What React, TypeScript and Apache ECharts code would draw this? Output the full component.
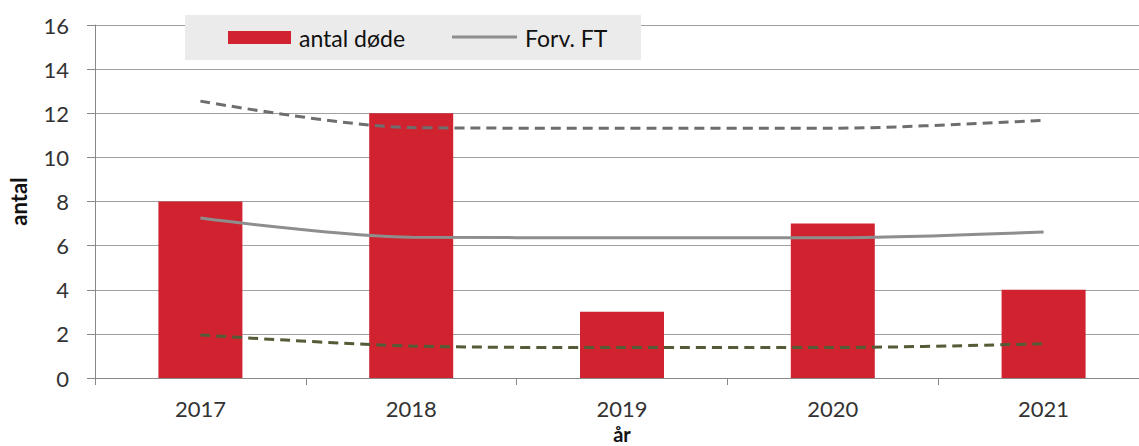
import React, { useEffect, useRef } from "react";
import * as echarts from "echarts";

const years = ["2017", "2018", "2019", "2020", "2021"];
const deaths = [8, 12, 3, 7, 4];
const expected = [7.25, 6.38, 6.36, 6.36, 6.62];
const upper = [12.55, 11.35, 11.32, 11.32, 11.68];
const lower = [1.95, 1.45, 1.38, 1.38, 1.55];
const yTicks = [0, 2, 4, 6, 8, 10, 12, 14, 16];

const FONT = "Lato";

export default function App() {
  const ref = useRef<HTMLDivElement>(null);
  useEffect(() => {
    const chart = echarts.init(ref.current!, null, { renderer: "svg", width: 1139, height: 446 });
    chart.setOption({
      animation: false,
      backgroundColor: "#ffffff",
      grid: {
        left: 95,
        right: -10,
        top: 25,
        bottom: 68,
        containLabel: false,
        outerBoundsMode: "none",
      },
      xAxis: {
        type: "category",
        data: years,
        boundaryGap: true,
        name: "år",
        nameLocation: "middle",
        nameGap: 40,
        nameTextStyle: {
          fontFamily: FONT,
          fontWeight: "bold",
          fontSize: 20,
          lineHeight: 20,
          color: "#111",
        },
        axisLine: { lineStyle: { color: "#888", width: 1 } },
        axisTick: { show: true, length: 7, lineStyle: { color: "#888" } },
        axisLabel: { fontFamily: FONT, fontSize: 22, color: "#333", margin: 19 },
      },
      yAxis: {
        type: "value",
        min: yTicks[0],
        max: yTicks[yTicks.length - 1],
        interval: 2,
        name: "antal",
        nameLocation: "middle",
        nameGap: 77,
        nameRotate: 90,
        nameTextStyle: {
          fontFamily: FONT,
          fontWeight: "bold",
          fontSize: 22,
          color: "#111",
          verticalAlign: "middle",
        },
        axisLine: { show: true, lineStyle: { color: "#888" } },
        axisTick: { show: true, length: 8, inside: false, lineStyle: { color: "#888" } },
        axisLabel: { fontFamily: FONT, fontSize: 22, color: "#333", margin: 26 },
        splitLine: { lineStyle: { color: "#a0a0a0", width: 1 } },
      },
      series: [
        {
          name: "antal døde",
          type: "bar",
          data: deaths,
          barWidth: 84,
          itemStyle: { color: "#d0232f" },
          z: 1,
        },
        {
          name: "Forv. FT",
          type: "line",
          data: expected,
          smooth: 0.3,
          showSymbol: false,
          lineStyle: { color: "#8e8e8e", width: 3 },
          z: 3,
        },
        {
          name: "upper",
          type: "line",
          data: upper,
          smooth: 0.3,
          showSymbol: false,
          lineStyle: { color: "#6e6e6e", width: 3, type: [10, 6] },
          z: 3,
        },
        {
          name: "lower",
          type: "line",
          data: lower,
          smooth: 0.3,
          showSymbol: false,
          lineStyle: { color: "#535c36", width: 3, type: [10, 6] },
          z: 3,
        },
      ],
      graphic: [
        {
          type: "rect",
          shape: { x: 185, y: 15, width: 456, height: 45 },
          style: { fill: "#ebebeb" },
          z: 10,
        },
        {
          type: "rect",
          shape: { x: 228, y: 31, width: 63, height: 13 },
          style: { fill: "#d0232f" },
          z: 11,
        },
        {
          type: "text",
          x: 299,
          y: 38,
          style: {
            text: "antal døde",
            fontFamily: FONT,
            fontSize: 23,
            fill: "#111",
            verticalAlign: "middle",
          },
          z: 11,
        },
        {
          type: "line",
          shape: { x1: 452, y1: 37, x2: 517, y2: 37 },
          style: { stroke: "#8e8e8e", lineWidth: 3 },
          z: 11,
        },
        {
          type: "text",
          x: 525,
          y: 38,
          style: {
            text: "Forv. FT",
            fontFamily: FONT,
            fontSize: 23,
            fill: "#111",
            verticalAlign: "middle",
          },
          z: 11,
        },
      ],
    });
    return () => chart.dispose();
  }, []);
  return (
    <div
      ref={ref}
      style={{ position: "fixed", left: 0, top: 0, width: 1139, height: 446 }}
    />
  );
}
